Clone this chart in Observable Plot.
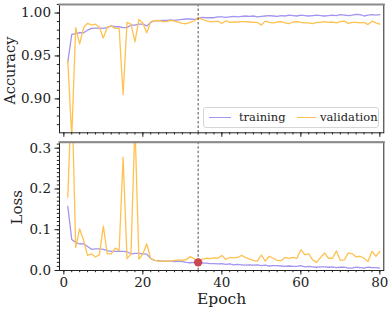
<!DOCTYPE html>
<html>
<head>
<meta charset="utf-8">
<script src="https://cdn.jsdelivr.net/npm/d3@7"></script>
<script src="https://cdn.jsdelivr.net/npm/@observablehq/plot@0.6"></script>
<style>
  html, body { margin: 0; padding: 0; background: #fff; }
  #chart { position: relative; width: 392px; height: 314px; font-family: "DejaVu Serif", serif; }
  #chart svg { display: block; }
  #legend { position: absolute; left: 203px; top: 107px; width: 174px; height: 19px;
    border: 1px solid #d6d6d6; border-radius: 3px; background: rgba(255,255,255,0.85);
    font-family: "DejaVu Serif", serif; font-size: 11.5px; color: #222; }
  #legend span { position: absolute; top: 1.5px; }
  #legend i { position: absolute; top: 9px; height: 0; border-top: 1.3px solid; }
</style>
</head>
<body>
<div id="chart"></div>
<script>
const epochs = d3.range(1, 81);

const accTrain = [0.943,0.975,0.976,0.977,0.977,0.980,0.982,0.9825,0.9825,0.982,
  0.983,0.985,0.984,0.984,0.983,0.983,0.986,0.986,0.987,0.987,
  0.985,0.989,0.991,0.991,0.9915,0.9915,0.992,0.9915,0.992,0.9925,
  0.993,0.993,0.9925,0.9935,0.995,0.9945,0.9945,0.9945,0.9955,0.9955,
  0.995,0.9955,0.996,0.9955,0.996,0.9965,0.996,0.9965,0.9955,0.996,
  0.9965,0.997,0.9965,0.996,0.997,0.9965,0.9975,0.997,0.9965,0.9975,
  0.997,0.9965,0.997,0.9975,0.997,0.9965,0.997,0.9975,0.997,0.998,
  0.9975,0.997,0.9975,0.9985,0.998,0.9965,0.9975,0.998,0.9975,0.998];

const accVal = [0.945,0.855,0.983,0.964,0.983,0.988,0.986,0.987,0.9835,0.971,
  0.9835,0.985,0.982,0.982,0.905,0.989,0.987,0.9665,0.9925,0.988,
  0.977,0.990,0.991,0.9915,0.990,0.990,0.9915,0.9905,0.9895,0.988,
  0.9875,0.989,0.991,0.9944,0.993,0.991,0.990,0.990,0.9905,0.9878,
  0.991,0.989,0.9895,0.9895,0.990,0.990,0.9895,0.989,0.989,0.986,
  0.9905,0.989,0.9885,0.9895,0.990,0.9885,0.9875,0.9895,0.990,0.989,
  0.9885,0.9885,0.9875,0.989,0.989,0.990,0.989,0.9895,0.9885,0.990,
  0.9905,0.988,0.989,0.989,0.9885,0.989,0.9865,0.9905,0.9885,0.987];

const lossTrain = [0.157,0.076,0.069,0.065,0.066,0.059,0.052,0.053,0.053,0.052,
  0.049,0.047,0.047,0.047,0.047,0.046,0.041,0.042,0.042,0.041,
  0.040,0.029,0.025,0.024,0.023,0.023,0.023,0.022,0.023,0.022,
  0.020,0.019,0.020,0.019,0.018,0.018,0.017,0.017,0.016,0.017,
  0.015,0.016,0.014,0.015,0.014,0.013,0.014,0.013,0.014,0.012,
  0.013,0.011,0.012,0.012,0.011,0.010,0.011,0.010,0.010,0.012,
  0.009,0.010,0.009,0.008,0.009,0.009,0.008,0.009,0.007,0.008,
  0.008,0.006,0.006,0.008,0.007,0.006,0.008,0.007,0.007,0.006];

const lossVal = [0.18,0.45,0.057,0.102,0.074,0.037,0.041,0.033,0.039,0.109,
  0.041,0.041,0.055,0.049,0.278,0.029,0.041,0.36,0.028,0.041,
  0.065,0.029,0.025,0.023,0.023,0.023,0.023,0.025,0.026,0.025,
  0.027,0.034,0.029,0.020,0.028,0.030,0.029,0.031,0.030,0.037,
  0.027,0.032,0.031,0.032,0.037,0.032,0.028,0.025,0.023,0.038,
  0.023,0.035,0.030,0.025,0.024,0.032,0.030,0.032,0.030,0.051,
  0.039,0.041,0.026,0.020,0.032,0.043,0.030,0.030,0.048,0.025,
  0.026,0.043,0.041,0.033,0.035,0.030,0.022,0.047,0.035,0.047];

const bestEpoch = [34];
const bestLoss = [0.020];

const seriesNames = ["training", "validation"];
const seriesColors = ["#a294ef", "#ffc14f"];

const xMajor = [0, 20, 40, 60, 80];
const xMinor = d3.range(0, 82, 2);
const accMajor = [0.90, 0.95, 1.00];
const accMinor = d3.range(87, 102).map(d => d / 100);
const lossMajor = [0.0, 0.1, 0.2, 0.3];
const lossMinor = d3.range(0, 32).map(d => d / 100);

const toRows = (vals, name) => epochs.map((e, i) => ({epoch: e, value: vals[i], series: name}));
const accRows = [...toRows(accTrain, "training"), ...toRows(accVal, "validation")];
const lossRows = [...toRows(lossTrain, "training"), ...toRows(lossVal, "validation")];
const best = bestEpoch.map((e, i) => ({epoch: e, value: bestLoss[i]}));

const xDomain = [-1.1, 81];
const common = {
  width: 392,
  marginLeft: 59,
  marginRight: 8.7,
  style: {fontFamily: "DejaVu Serif, serif", fontSize: "13.5px", color: "#222", background: "transparent", overflow: "visible"},
  color: {domain: seriesNames, range: seriesColors}
};

const topPlot = Plot.plot({
  ...common,
  height: 137,
  marginTop: 4,
  marginBottom: 4.7,
  x: {domain: xDomain},
  y: {domain: [0.8605, 1.0099]},
  marks: [
    Plot.line(accRows, {x: "epoch", y: "value", z: "series", stroke: "series", strokeWidth: 1.3, clip: true}),
    Plot.ruleX(bestEpoch, {x: d => d, stroke: "#222", strokeWidth: 0.8, strokeDasharray: "2.5,2"}),
    Plot.axisX(xMajor, {tickSize: 4.5, text: null, label: null, stroke: "#222"}),
    Plot.axisX(xMinor, {tickSize: 2.2, text: null, label: null, stroke: "#222"}),
    Plot.axisY(accMajor, {tickSize: 4.5, tickPadding: 4, tickFormat: d3.format(".2f"), label: null, stroke: "#222", fill: "#222"}),
    Plot.axisY(accMinor, {tickSize: 2.2, text: null, label: null, stroke: "#222"}),
    Plot.frame({stroke: "#222", strokeWidth: 1}),
    Plot.frame({anchor: "top", stroke: "#8a8a8a", strokeWidth: 2}),
    Plot.text(["Accuracy"], {frameAnchor: "left", textAnchor: "middle", dx: -49, dy: 2, rotate: -90, fontSize: 14.5, fill: "#222"})
  ]
});

const bottomPlot = Plot.plot({
  ...common,
  height: 177,
  marginTop: 4.7,
  marginBottom: 44,
  x: {domain: xDomain},
  y: {domain: [0, 0.3147]},
  marks: [
    Plot.line(lossRows, {x: "epoch", y: "value", z: "series", stroke: "series", strokeWidth: 1.3, clip: true}),
    Plot.ruleX(bestEpoch, {x: d => d, stroke: "#222", strokeWidth: 0.8, strokeDasharray: "2.5,2"}),
    Plot.dot(best, {x: "epoch", y: "value", r: 4.2, fill: "#c9474f", stroke: "none"}),
    Plot.axisX(xMajor, {tickSize: 4.5, tickPadding: 2, label: null, stroke: "#222", fill: "#222"}),
    Plot.axisX(xMinor, {tickSize: 2.2, text: null, label: null, stroke: "#222"}),
    Plot.axisY(lossMajor, {tickSize: 4.5, tickPadding: 4, tickFormat: d3.format(".1f"), label: null, stroke: "#222", fill: "#222"}),
    Plot.axisY(lossMinor, {tickSize: 2.2, text: null, label: null, stroke: "#222"}),
    Plot.frame({stroke: "#222", strokeWidth: 1}),
    Plot.frame({anchor: "top", stroke: "#8a8a8a", strokeWidth: 2}),
    Plot.text(["Loss"], {frameAnchor: "left", textAnchor: "middle", dx: -42, dy: 1, rotate: -90, fontSize: 15, fill: "#222"}),
    Plot.text(["Epoch"], {frameAnchor: "bottom", dy: 33, fontSize: 15.5, fill: "#222"})
  ]
});

const chart = document.getElementById("chart");
chart.appendChild(topPlot);
chart.appendChild(bottomPlot);

const legend = document.createElement("div");
legend.id = "legend";
legend.innerHTML =
  `<i style="left:5px;width:22px;border-color:${seriesColors[0]}"></i><span style="left:35px">${seriesNames[0]}</span>` +
  `<i style="left:93px;width:19px;border-color:${seriesColors[1]}"></i><span style="left:116px">${seriesNames[1]}</span>`;
chart.appendChild(legend);
</script>
</body>
</html>
